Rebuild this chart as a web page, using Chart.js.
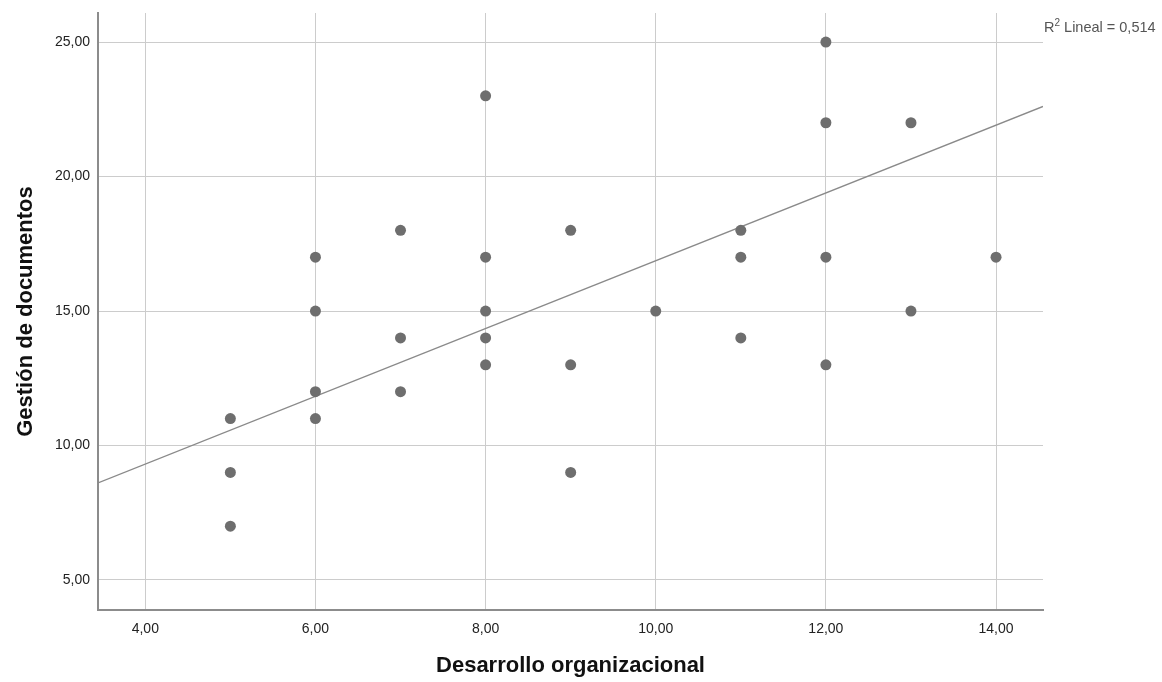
<!DOCTYPE html>
<html>
<head>
<meta charset="utf-8">
<script src="https://cdn.jsdelivr.net/npm/chart.js@4.4.1/dist/chart.umd.min.js"></script>
<style>
  html, body { margin: 0; padding: 0; background: #fff; }
  #wrap { width: 1162px; height: 682px; }
</style>
</head>
<body>
<div id="wrap"><canvas id="scatterChart" width="1162" height="682"></canvas></div>
<script>
// Desarrollo organizacional (x) vs Gestión de documentos (y)
const devX = [5, 5, 5, 6, 6, 6, 6, 7, 7, 7, 8, 8, 8, 8, 8, 9, 9, 9, 10, 11, 11, 11, 12, 12, 12, 12, 13, 13, 14];
const docY = [11, 9, 7, 17, 15, 12, 11, 18, 14, 12, 23, 17, 15, 14, 13, 18, 13, 9, 15, 18, 17, 14, 25, 22, 17, 13, 22, 15, 17];

const xTicks = [4, 6, 8, 10, 12, 14];
const yTicks = [5, 10, 15, 20, 25];
const xRange = [3.444, 14.552];
const yRange = [3.884, 26.08];

// linear fit
const fitIntercept = 4.27;
const fitSlope = 1.26;
const rSquaredText = '0,514';

const fmt = v => v.toFixed(2).replace('.', ',');
const FONT = '"Liberation Sans", Arial, sans-serif';

const points = devX.map((x, i) => ({ x, y: docY[i] }));
const fitLine = xRange.map(x => ({ x, y: fitIntercept + fitSlope * x }));

const r2Label = {
  id: 'r2Label',
  afterDraw(chart) {
    const ctx = chart.ctx;
    const x0 = chart.chartArea.right + 1;
    const base = 32;
    ctx.save();
    ctx.fillStyle = '#555';
    ctx.textBaseline = 'alphabetic';
    ctx.textAlign = 'left';
    ctx.font = '14.5px ' + FONT;
    ctx.fillText('R', x0, base);
    let x = x0 + ctx.measureText('R').width;
    ctx.font = '10px ' + FONT;
    ctx.fillText('2', x, base - 6);
    x += ctx.measureText('2').width;
    ctx.font = '14.5px ' + FONT;
    ctx.fillText(' Lineal = ' + rSquaredText, x, base);
    ctx.restore();
  }
};

new Chart(document.getElementById('scatterChart'), {
  type: 'scatter',
  data: {
    datasets: [
      {
        label: 'Observado',
        data: points,
        backgroundColor: '#6e6e6e',
        borderWidth: 0,
        pointRadius: 5.5,
        order: 1
      },
      {
        type: 'line',
        label: 'Lineal',
        data: fitLine,
        borderColor: '#8a8a8a',
        borderWidth: 1.3,
        pointRadius: 0,
        fill: false,
        order: 2
      }
    ]
  },
  options: {
    responsive: false,
    animation: false,
    layout: { padding: { top: 13, right: 119, left: 0, bottom: 0 } },
    plugins: {
      legend: { display: false },
      tooltip: { enabled: false }
    },
    scales: {
      x: {
        type: 'linear',
        min: xRange[0],
        max: xRange[1],
        afterBuildTicks: s => { s.ticks = xTicks.map(v => ({ value: v })); },
        afterFit: s => { s.height = 72; s.paddingLeft = 0; s.paddingRight = 0; },
        grid: { color: '#cccccc', lineWidth: 1, drawTicks: false },
        border: { color: '#8c8c8c', width: 2 },
        ticks: {
          padding: 11,
          color: '#222',
          font: { family: FONT, size: 14 },
          callback: v => fmt(v)
        },
        title: {
          display: true,
          text: 'Desarrollo organizacional',
          color: '#111',
          font: { family: FONT, size: 22, weight: 'bold' },
          padding: { top: 0, bottom: 3 }
        }
      },
      y: {
        type: 'linear',
        min: yRange[0],
        max: yRange[1],
        afterBuildTicks: s => { s.ticks = yTicks.map(v => ({ value: v })); },
        afterFit: s => { s.width = 98; s.paddingTop = 0; s.paddingBottom = 0; },
        grid: { color: '#cccccc', lineWidth: 1, drawTicks: false },
        border: { color: '#8c8c8c', width: 2 },
        ticks: {
          padding: 8,
          color: '#222',
          font: { family: FONT, size: 14 },
          callback: v => fmt(v)
        },
        title: {
          display: true,
          text: 'Gestión de documentos',
          color: '#111',
          font: { family: FONT, size: 22, weight: 'bold' },
          padding: { top: 13, bottom: 0 }
        }
      }
    }
  },
  plugins: [r2Label]
});
</script>
</body>
</html>
